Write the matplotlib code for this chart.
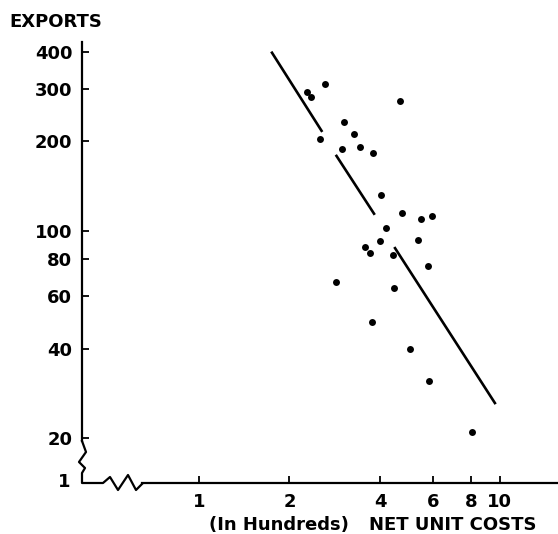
import matplotlib
matplotlib.use('Agg')  # sem display
import matplotlib.pyplot as plt
from matplotlib.lines import Line2D

# Custo unitário líquido (centenas) x exportações
costs = [2.28, 2.35, 2.62, 4.67, 3.03, 3.28, 2.52, 2.99, 3.42, 3.78,
         4.02, 4.73, 5.45, 5.93, 4.18, 3.99, 5.33, 3.57, 3.71, 4.42,
         5.78, 2.85, 4.46, 3.77, 5.04, 5.82, 8.07]
exports = [292, 281, 312, 273, 232, 211, 203, 189, 191, 182,
           132, 115, 109, 112, 102, 92, 93, 88, 84, 83,
           76, 67, 64, 49, 40, 31, 21]

# reta de tendência, desenhada em três trechos (inicio, fim)
trend_x = [(1.74, 2.57), (2.85, 3.84), (4.46, 9.68)]
trend_y = [(401, 215), (180, 113), (88, 26)]

xticks = [1, 2, 4, 6, 8, 10]
xtick_labels = ['1', '2', '4', '6', '8', '10']
yticks = [20, 40, 60, 80, 100, 200, 300, 400]
ytick_labels = ['20', '40', '60', '80', '100', '200', '300', '400']

plt.rcParams['font.weight'] = 'bold'

W, H = 558, 534
fig = plt.figure(figsize=(W / 100, H / 100), dpi=100)
ax = fig.add_axes([82 / W, (H - 483) / H, (W - 82) / W, (483 - 42) / H])
ax.set_xscale('log')
ax.set_yscale('log')
ax.set_xlim(0.409, 15.6)
ax.set_ylim(14.1, 432)

ax.scatter(costs, exports, s=25, color='black', zorder=3, linewidths=0)
for (x0, x1), (y0, y1) in zip(trend_x, trend_y):
    ax.plot([x0, x1], [y0, y1], color='black', linewidth=1.9, solid_capstyle='butt')

ax.set_xticks(xticks)
ax.set_xticklabels(xtick_labels)
ax.set_yticks(yticks)
ax.set_yticklabels(ytick_labels)
ax.minorticks_off()
ax.tick_params(axis='both', direction='in', length=5, width=1.3,
               labelsize=13, pad=7)

for side in ['top', 'right']:
    ax.spines[side].set_visible(False)
ax.spines['left'].set_linewidth(1.6)
ax.spines['bottom'].set_linewidth(1.6)
ax.spines['left'].set_bounds(19.5, 432)
ax.spines['bottom'].set_bounds(0.6465, 15.6)

# quebras (zigue-zague) nos dois eixos, em pixels
zig = [(82, 441), (86, 452), (79, 462), (85, 468), (82, 473),
       (82, 483), (103, 483), (110, 477), (118, 490), (128, 475),
       (136, 490), (142, 484)]
fig.add_artist(Line2D([p[0] / W for p in zig], [1 - p[1] / H for p in zig],
                      color='black', linewidth=1.6, transform=fig.transFigure))

fig.text(9 / W, 1 - 22 / H, 'EXPORTS', fontsize=13, va='center', ha='left')
fig.text(70 / W, 1 - 482 / H, '1', fontsize=13, va='center', ha='right')
fig.text(209 / W, 1 - 525 / H, '(In Hundreds)', fontsize=13, va='center', ha='left')
fig.text(369 / W, 1 - 525 / H, 'NET UNIT COSTS', fontsize=13, va='center', ha='left')

fig.savefig('out.png', dpi=100)
